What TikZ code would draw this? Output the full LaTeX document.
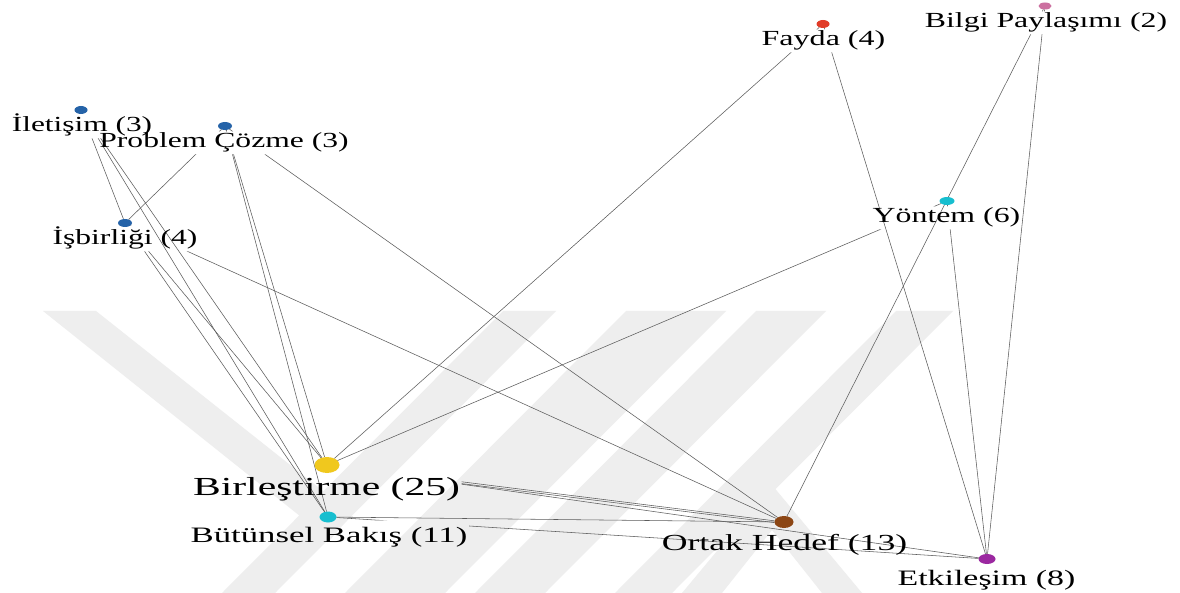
\documentclass[tikz,border=0pt]{standalone}
\usepackage{fontspec}
\setmainfont{Liberation Serif}
\usepackage{graphicx}
\usetikzlibrary{shapes.geometric}
\pgfdeclarelayer{wm}
\pgfdeclarelayer{edges}
\pgfsetlayers{wm,edges,main}
\definecolor{cblue}{RGB}{37,99,168}
\definecolor{cred}{RGB}{225,60,40}
\definecolor{cpink}{RGB}{204,112,160}
\definecolor{ccyan}{RGB}{23,190,207}
\definecolor{cyellow}{RGB}{240,200,30}
\definecolor{cbrown}{RGB}{140,70,20}
\definecolor{cpurple}{RGB}{155,40,160}
\definecolor{wmgray}{RGB}{238,238,238}
\tikzset{
  dot/.style={ellipse, inner sep=0pt, outer sep=0pt, draw=none},
  lab/.style={anchor=base, inner sep=1.5pt, text=black},
  edge/.style={draw=black!64, line width=0.55pt},
  wmark/.style={fill=wmgray, draw=none},
}
\newcommand{\lbl}[3]{\fontsize{#1}{#1}\selectfont\scalebox{#2}[1]{#3}}
\newcommand{\edg}[3][]{%
  \begin{scope}[even odd rule]
    \clip (-10,-10) rectangle (1190,610)
      (#2-l.south west) rectangle (#2-l.north east)
      (#3-l.south west) rectangle (#3-l.north east);
    \draw[edge,#1] (#2) -- (#3);
  \end{scope}}
\begin{document}
\begin{tikzpicture}[x=1pt,y=-1pt]
\useasboundingbox (0,0) rectangle (1180,593);

% background and watermark
\begin{pgfonlayer}{wm}
\fill[white] (0,0) rectangle (1180,593);
\fill[wmark] (43,311) -- (96,311) -- (352,514) -- (330,540) -- cycle;
\fill[wmark] (503,311) -- (556,311) -- (275,593) -- (222,593) -- cycle;
\fill[wmark] (626,311) -- (726,311) -- (445,593) -- (345,593) -- cycle;
\fill[wmark] (756,311) -- (826,311) -- (545,593) -- (475,593) -- cycle;
\fill[wmark] (896,311) -- (953,311) -- (672,593) -- (615,593) -- cycle;
\fill[wmark] (772,485) -- (862,593) -- (822,593) -- (772,530) -- (722,593) -- (682,593) -- cycle;
\end{pgfonlayer}

% dots
\node[dot, fill=cblue, minimum width=13pt, minimum height=8pt] (il) at (81,110) {};
\node[dot, fill=cblue, minimum width=14pt, minimum height=8pt] (pc) at (225,126) {};
\node[dot, fill=cblue, minimum width=14pt, minimum height=8pt] (is) at (125,223) {};
\node[dot, fill=cred, minimum width=13pt, minimum height=8pt] (fa) at (823,24) {};
\node[dot, fill=cpink, minimum width=13pt, minimum height=7pt] (bp) at (1045,6) {};
\node[dot, fill=ccyan, minimum width=15pt, minimum height=8pt] (yo) at (947,201) {};
\node[dot, fill=cyellow, minimum width=25pt, minimum height=16pt] (bi) at (327,465) {};
\node[dot, fill=ccyan, minimum width=17pt, minimum height=11pt] (bu) at (328,517) {};
\node[dot, fill=cbrown, minimum width=19pt, minimum height=12pt] (oh) at (784,522) {};
\node[dot, fill=cpurple, minimum width=17pt, minimum height=10pt] (et) at (987,559) {};

% labels
\node[lab] (il-l) at (82,132) {\lbl{21.5}{1.46}{İletişim (3)}};
\node[lab] (pc-l) at (224,148) {\lbl{21.5}{1.47}{Problem Çözme (3)}};
\node[lab] (is-l) at (125,245) {\lbl{21.5}{1.47}{İşbirliği (4)}};
\node[lab] (fa-l) at (823.5,46) {\lbl{21.5}{1.49}{Fayda (4)}};
\node[lab] (bp-l) at (1046,28) {\lbl{21.5}{1.48}{Bilgi Paylaşımı (2)}};
\node[lab] (yo-l) at (946.5,223) {\lbl{21.5}{1.48}{Yöntem (6)}};
\node[lab, text height=29pt] (bi-l) at (326.5,495) {\lbl{26}{1.60}{Birleştirme (25)}};
\node[lab, text height=20pt] (bu-l) at (329,542) {\lbl{22}{1.58}{Bütünsel Bakış (11)}};
\node[lab] (oh-l) at (784.5,550) {\lbl{23}{1.55}{Ortak Hedef (13)}};
\node[lab] (et-l) at (986.5,585) {\lbl{22}{1.54}{Etkileşim (8)}};

% edges
\begin{pgfonlayer}{edges}
\edg{il}{is}
\edg{il}{bi}
\edg{il}{bu}
\edg{pc}{is}
\edg{pc}{bi}
\edg{pc}{bu}
\edg{pc}{oh}
\edg{is}{bi}
\edg{is}{bu}
\edg{is}{oh}
\edg{fa}{bi}
\edg{fa}{et}
\edg{bp}{oh}
\edg{bp}{et}
\edg{yo}{bi}
\edg{yo}{et}
\edg{bi}{oh}
\edg[transform canvas={yshift=-1.8pt}]{bi}{oh}
\edg{bi}{et}
\edg{bu}{oh}
\edg{bu}{et}
\end{pgfonlayer}
\end{tikzpicture}
\end{document}
